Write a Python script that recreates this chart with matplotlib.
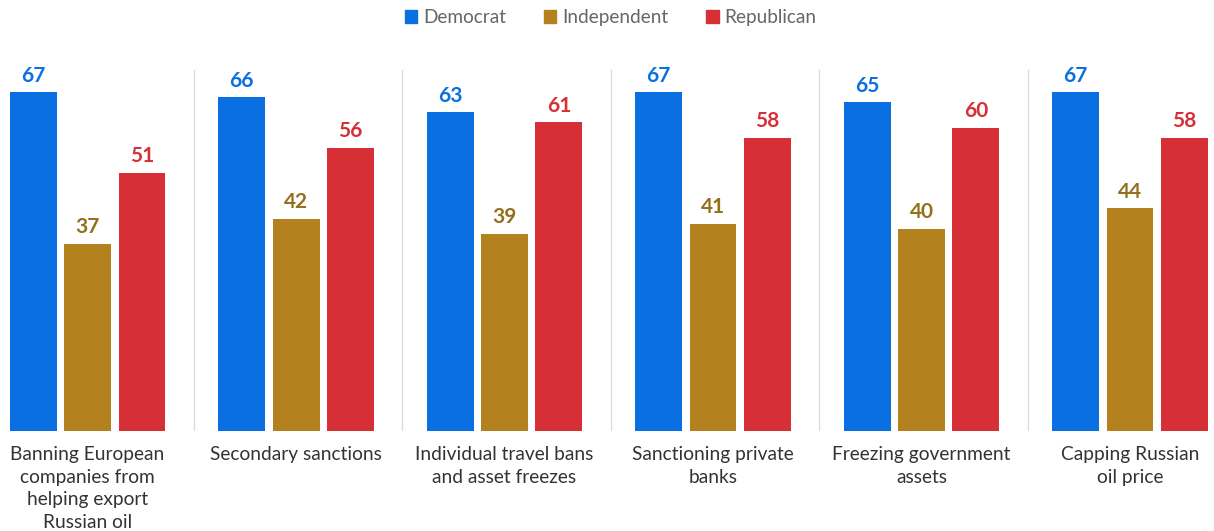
import numpy as np
import matplotlib.pyplot as plt
from matplotlib.patches import Patch

plt.rcParams['font.family'] = ['Lato', 'DejaVu Sans']

# Data
categories = ['Banning European\ncompanies from\nhelping export\nRussian oil',
              'Secondary sanctions',
              'Individual travel bans\nand asset freezes',
              'Sanctioning private\nbanks',
              'Freezing government\nassets',
              'Capping Russian\noil price']
series = ['Democrat', 'Independent', 'Republican']
democrat = [67, 66, 63, 67, 65, 67]
independent = [37, 42, 39, 41, 40, 44]
republican = [51, 56, 61, 58, 60, 58]

bar_colors = ['#0A6FE0', '#B3821F', '#D63036']
label_colors = ['#0A6FE0', '#94701C', '#D63036']

fig = plt.figure(figsize=(12.14, 5.31), dpi=100)
ax = fig.add_axes([0, 100 / 531, 1, 391 / 531])

x = np.arange(len(categories))
width = 0.225
step = 0.261

for i, (name, vals) in enumerate(zip(series, [democrat, independent, republican])):
    pos = x + (i - 1) * step
    ax.bar(pos, vals, width=width, color=bar_colors[i], label=name)
    for p, v in zip(pos, vals):
        ax.text(p, v + 1.3, str(v), ha='center', va='bottom',
                fontsize=15, fontweight='bold', color=label_colors[i])

# Separators between groups
for s in x[:-1] + 0.51:
    ax.plot([s, s], [0, 71.3], color='#dddddd', linewidth=1)

# Category labels
for xi, cat in zip(x, categories):
    ax.text(xi, -2.9, cat, ha='center', va='top', fontsize=13.8,
            color='#333333', linespacing=1.42)

ax.set_xlim(-0.42, 5.403)
ax.set_ylim(0, 77.3)
ax.axis('off')

handles = [Patch(color=c) for c in bar_colors]
fig.legend(handles, series, loc='upper center', bbox_to_anchor=(0.503, 1.015),
           ncol=3, frameon=False, fontsize=13.7, handlelength=0.65,
           handleheight=0.65, handletextpad=0.3, columnspacing=2.0,
           labelcolor='#666666')

plt.savefig('out.png', dpi=100)
